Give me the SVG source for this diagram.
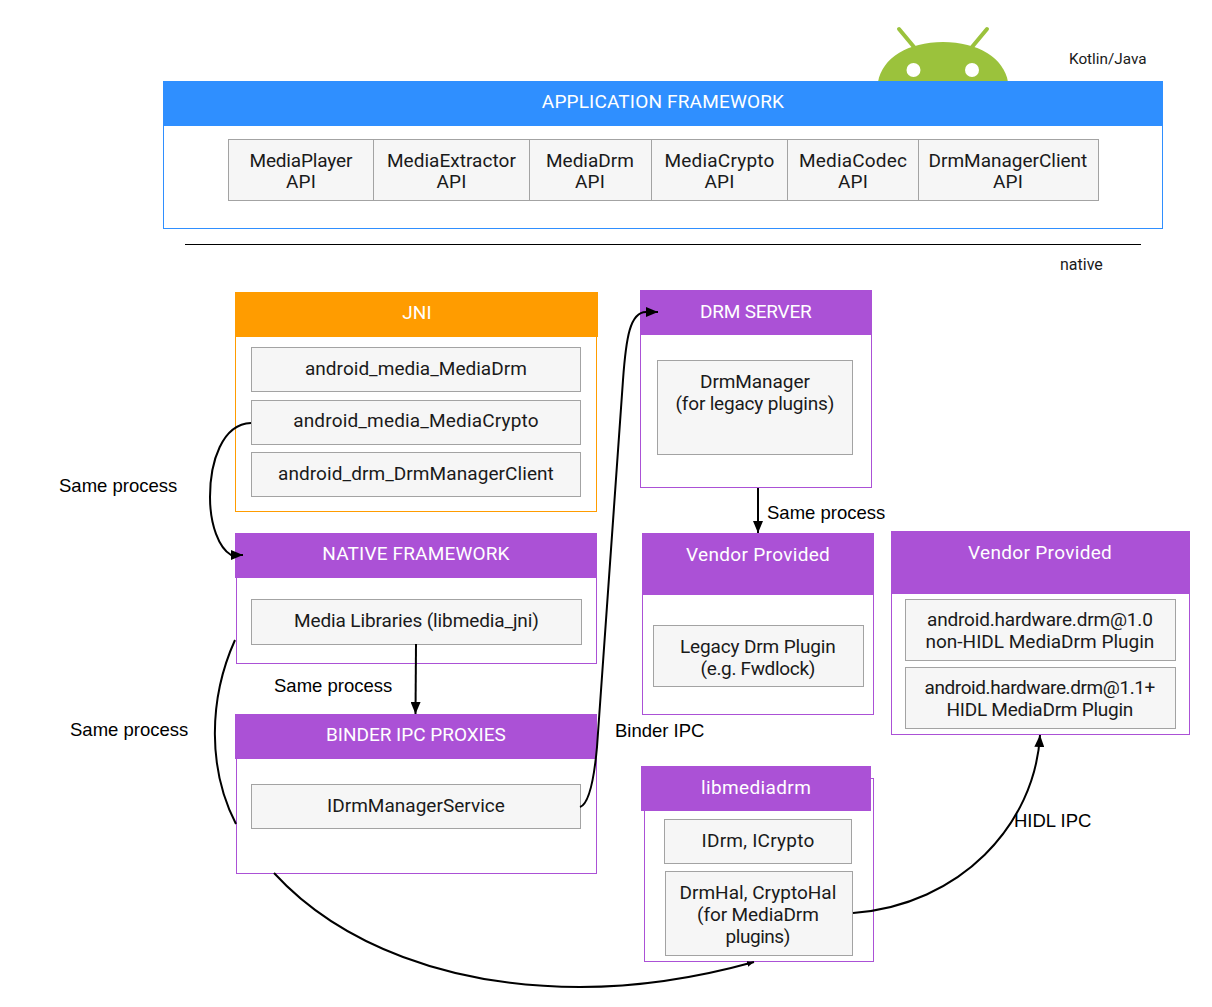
<svg xmlns="http://www.w3.org/2000/svg" width="1212" height="1007" viewBox="0 0 1212 1007">
<style>
text{font-family:Roboto,"Noto Sans",sans-serif;font-size:19px;letter-spacing:.17px;fill:#1a1a1a;text-anchor:middle}
.h{fill:#fff}
.l{font-family:"Liberation Sans",Arial,sans-serif;font-size:18.5px;letter-spacing:0;fill:#000;text-anchor:start}
.s{font-size:15.300px;letter-spacing:0;text-anchor:start}
.b{fill:#f6f6f6;stroke:#a3a3a3;stroke-width:1}
.o{fill:#fff;stroke:#ab51d6;stroke-width:1}
.p{fill:#ab51d6}
.c{fill:none;stroke:#000;stroke-width:2}
</style>
<defs>
<marker id="a" viewBox="0 0 12 10" refX="12" refY="5" markerWidth="12" markerHeight="10" markerUnits="userSpaceOnUse" orient="auto"><path d="M0 0L12 5L0 10z" fill="#000"/></marker>
<marker id="m" viewBox="0 0 12 10" refX="12" refY="5" markerWidth="7" markerHeight="6" markerUnits="userSpaceOnUse" orient="auto"><path d="M0 0L12 5L0 10z" fill="#000"/></marker>
</defs>
<g id="android"><path d="M878 82C882 58 908 42 943 42C978 42 1004 58 1008 82z" fill="#9bc23c"/><path d="M914 47L899 29M972 47L987 29" stroke="#9bc23c" stroke-width="4" stroke-linecap="round"/><circle cx="913.500" cy="70" r="7" fill="#fff"/><circle cx="972" cy="70" r="7" fill="#fff"/></g>
<text class="s" x="1069" y="64">Kotlin/Java</text>
<text class="s" x="1060" y="270" style="font-size:16px">native</text>
<line x1="185" y1="244.500" x2="1141" y2="244.500" stroke="#000"/>
<g id="app-framework"><rect x="163.500" y="81.500" width="999" height="147" fill="#fff" stroke="#2f8fff"/><rect x="163" y="81" width="1000" height="45" fill="#2f8fff"/><text class="h" x="663" y="108">APPLICATION FRAMEWORK</text></g>
<g id="api-mediaplayer"><rect class="b" x="228.500" y="139.500" width="145" height="61"/><text x="301" y="166.500" textLength="103">MediaPlayer</text><text x="301" y="188">API</text></g>
<g id="api-mediaextractor"><rect class="b" x="373.500" y="139.500" width="156" height="61"/><text x="451.500" y="166.500" textLength="129">MediaExtractor</text><text x="451.500" y="188">API</text></g>
<g id="api-mediadrm"><rect class="b" x="529.500" y="139.500" width="122" height="61"/><text x="590" y="166.500" textLength="88">MediaDrm</text><text x="590" y="188">API</text></g>
<g id="api-mediacrypto"><rect class="b" x="651.500" y="139.500" width="136" height="61"/><text x="719.500" y="166.500" textLength="110">MediaCrypto</text><text x="719.500" y="188">API</text></g>
<g id="api-mediacodec"><rect class="b" x="787.500" y="139.500" width="131" height="61"/><text x="853" y="166.500" textLength="108">MediaCodec</text><text x="853" y="188">API</text></g>
<g id="api-drmmanagerclient"><rect class="b" x="918.500" y="139.500" width="180" height="61"/><text x="1008" y="166.500" textLength="159">DrmManagerClient</text><text x="1008" y="188">API</text></g>
<g id="jni"><rect x="235.500" y="292.500" width="361" height="219" fill="#fff" stroke="#ff9c00"/><rect x="235" y="292" width="363" height="45" fill="#ff9c00"/><text class="h" x="417" y="319">JNI</text>
<rect class="b" x="251.500" y="347.500" width="329" height="44"/><text x="416" y="375" textLength="222">android_media_MediaDrm</text>
<rect class="b" x="251.500" y="400.500" width="329" height="44"/><text x="416" y="427">android_media_MediaCrypto</text>
<rect class="b" x="251.500" y="452.500" width="329" height="44"/><text x="416" y="480" textLength="276">android_drm_DrmManagerClient</text></g>
<g id="native-framework"><rect class="o" x="236.500" y="533.500" width="360" height="130"/><rect class="p" x="235" y="533" width="362" height="45"/><text class="h" x="416" y="560">NATIVE FRAMEWORK</text>
<rect class="b" x="251.500" y="599.500" width="330" height="45"/><text x="416.500" y="627" textLength="245">Media Libraries (libmedia_jni)</text></g>
<g id="binder-proxies"><rect class="o" x="236.500" y="714.500" width="360" height="159"/><rect class="p" x="235" y="714" width="362" height="45"/><text class="h" x="416" y="741" textLength="180">BINDER IPC PROXIES</text>
<rect class="b" x="251.500" y="784.500" width="329" height="44"/><text x="416" y="812" textLength="178">IDrmManagerService</text></g>
<g id="drm-server"><rect class="o" x="640.500" y="290.500" width="231" height="197"/><rect class="p" x="640" y="290" width="232" height="45"/><text class="h" x="756" y="318" textLength="112">DRM SERVER</text>
<rect class="b" x="657.500" y="360.500" width="195" height="94"/><text x="755" y="387.500" textLength="110">DrmManager</text><text x="755" y="409.500" textLength="159">(for legacy plugins)</text></g>
<g id="vendor-legacy"><rect class="o" x="642.500" y="533.500" width="231" height="181"/><rect class="p" x="642" y="533" width="232" height="62"/><text class="h" x="758" y="561" textLength="144">Vendor Provided</text>
<rect class="b" x="653.500" y="625.500" width="210" height="61"/><text x="758" y="653" textLength="156">Legacy Drm Plugin</text><text x="758" y="675" textLength="115">(e.g. Fwdlock)</text></g>
<g id="vendor-hidl"><rect class="o" x="891.500" y="531.500" width="298" height="203"/><rect class="p" x="891" y="531" width="299" height="63"/><text class="h" x="1040" y="559" textLength="144">Vendor Provided</text>
<rect class="b" x="905.500" y="599.500" width="270" height="61"/><text x="1040" y="626" textLength="226">android.hardware.drm@1.0</text><text x="1040" y="648" textLength="229">non-HIDL MediaDrm Plugin</text>
<rect class="b" x="905.500" y="667.500" width="270" height="61"/><text x="1040" y="694" textLength="231">android.hardware.drm@1.1+</text><text x="1040" y="716" textLength="187">HIDL MediaDrm Plugin</text></g>
<g id="libmediadrm"><rect class="o" x="644.500" y="778.500" width="229" height="183"/><rect class="p" x="641" y="766" width="230" height="45"/><text class="h" x="756" y="794" textLength="110">libmediadrm</text>
<rect class="b" x="664.500" y="819.500" width="187" height="44"/><text x="758" y="847" textLength="113">IDrm, ICrypto</text>
<rect class="b" x="665.500" y="871.500" width="187" height="84"/><text x="758" y="899" textLength="157">DrmHal, CryptoHal</text><text x="758" y="921" textLength="122">(for MediaDrm</text><text x="758" y="943" textLength="65">plugins)</text></g>
<g id="connectors">
<path class="c" marker-end="url(#a)" d="M251 423C222 424 210 462 210 497C210 525 219 548 231 555L243 555"/>
<path class="c" d="M235 640C208 700 208 770 236 824"/>
<path class="c" marker-end="url(#m)" d="M274 873C340 945 450 987 580 987C640 987 700 977 754 962"/>
<path class="c" marker-end="url(#a)" d="M416 644L415.500 714"/>
<path class="c" marker-end="url(#a)" d="M580 807C589 804 594 780 597 747L623 380C626 338 630 312 646 312L658 312"/>
<path class="c" marker-end="url(#a)" d="M758 488L758 533"/>
<path class="c" marker-end="url(#a)" d="M853 913C960 905 1035 825 1040 735"/>
</g>
<g id="labels">
<text class="l" x="59" y="492">Same process</text>
<text class="l" x="70" y="735.500">Same process</text>
<text class="l" x="274" y="692">Same process</text>
<text class="l" x="767" y="519">Same process</text>
<text class="l" x="615" y="737">Binder IPC</text>
<text class="l" x="1014" y="827">HIDL IPC</text>
</g>
</svg>
